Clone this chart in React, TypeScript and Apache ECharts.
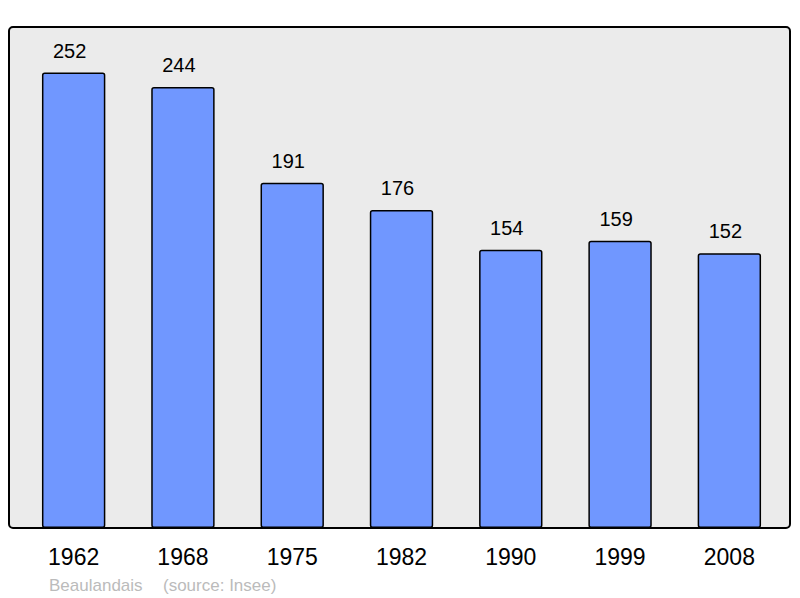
import React, { useEffect, useRef } from "react";
import * as echarts from "echarts";

const years = ["1962", "1968", "1975", "1982", "1990", "1999", "2008"];
const population = [252, 244, 191, 176, 154, 159, 152];
const commune = "Beaulandais";
const source = "(source: Insee)";

export default function App() {
  const ref = useRef<HTMLDivElement>(null);
  useEffect(() => {
    if (!ref.current) return;
    const chart = echarts.init(ref.current, undefined, { renderer: "svg" });
    const font = "'Liberation Sans', Arial, sans-serif";
    chart.setOption({
      animation: false,
      graphic: [
        {
          type: "rect",
          z: -10,
          shape: { x: 9, y: 27, width: 781, height: 501, r: 4 },
          style: { fill: "#ebebeb", stroke: "#000", lineWidth: 2 },
        },
        {
          type: "text",
          x: 49,
          y: 585,
          style: { text: commune, fill: "#bbbbbb", font: `17px ${font}`, verticalAlign: "middle" },
        },
        {
          type: "text",
          x: 163,
          y: 585,
          style: { text: source, fill: "#bbbbbb", font: `17px ${font}`, verticalAlign: "middle" },
        },
      ],
      grid: { left: 19, right: 16, top: 27, bottom: 70, containLabel: false },
      xAxis: {
        type: "category",
        data: years,
        axisLine: { show: false },
        axisTick: { show: false },
        axisLabel: { fontSize: 23, color: "#000", fontFamily: font, margin: 17 },
      },
      yAxis: {
        type: "value",
        min: 0,
        max: Math.max(...population) * 1.1,
        show: false,
        splitLine: { show: false },
      },
      series: [
        {
          type: "bar",
          data: population,
          barWidth: "58%",
          itemStyle: { color: "#7097ff", borderColor: "#000", borderWidth: 1.5, borderRadius: 2 },
          label: {
            show: true,
            position: "top",
            distance: 12,
            offset: [-4, 0],
            fontSize: 20,
            color: "#000",
            fontFamily: font,
          },
        },
      ],
    });
    return () => chart.dispose();
  }, []);
  return (
    <div
      ref={ref}
      style={{ position: "absolute", left: 0, top: 0, width: 800, height: 598, background: "#fff" }}
    />
  );
}
